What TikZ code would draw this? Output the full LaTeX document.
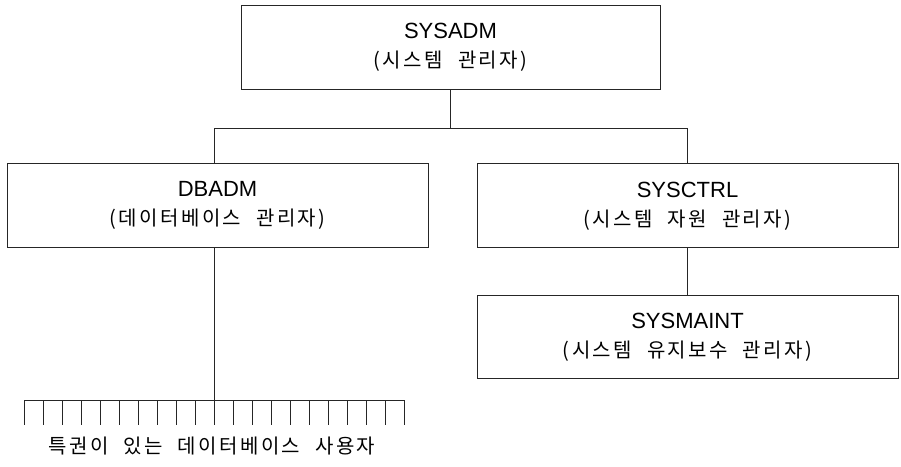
\documentclass[tikz,border=0pt]{standalone}
\usepackage{fontspec}
\setmainfont{Liberation Sans}
\newfontfamily\kr[LetterSpace=12]{Noto Sans CJK KR}
\newcommand{\hangul}[1]{{\kr\fontsize{20}{29}\selectfont\spaceskip=0.75em\relax #1}}
\usetikzlibrary{positioning}

\begin{document}
\begin{tikzpicture}[
        x=1pt, y=1pt,
        node distance=74pt,
        role/.style={rectangle, draw=black!85, line width=0.8pt, minimum width=421pt,
                     minimum height=84pt, align=center, inner sep=0pt,
                     font=\fontsize{22}{29}\selectfont},
        link/.style={draw=black!85, line width=0.8pt},
        krtext/.style={font=\fontsize{22}{29}\selectfont}
    ]
        \useasboundingbox (0,0) rectangle (901,466);

        \node[role, minimum width=419pt] (sysadm) at (450.5,419) {SYSADM\\\hangul{(시스템 관리자)}};
        \node[role, below=74pt of sysadm, xshift=-233pt] (dbadm) {DBADM\\\hangul{(데이터베이스 관리자)}};
        \node[role, below=74pt of sysadm, xshift=237pt] (sysctrl) {SYSCTRL\\\hangul{(시스템 자원 관리자)}};
        \node[role, below=47pt of sysctrl, minimum height=83pt] (sysmaint) {SYSMAINT\\\hangul{(시스템 유지보수 관리자)}};

        \coordinate[below=152pt of dbadm.south, xshift=-3.5pt] (comb);
        \node[krtext] (users) at ([xshift=-2pt, yshift=-46pt]comb) {\hangul{특권이 있는 데이터베이스 사용자}};

        % tree lines
        \draw[link] (sysadm.south) -- ++(0,-39) coordinate (bus);
        \draw[link] ([xshift=-3.5pt]dbadm.north) |- (bus) -| (sysctrl.north);
        \draw[link] (sysctrl) -- (sysmaint);

        % comb of users
        \draw[link] ([xshift=-3.5pt]dbadm.south) -- (comb);
        \draw[link] ([xshift=-190pt]comb) -- ([xshift=190pt]comb);
        \foreach \i in {-10,...,10}
            \draw[link] ([xshift=\i*19pt]comb) -- ++(0,-25);
\end{tikzpicture}
\end{document}
